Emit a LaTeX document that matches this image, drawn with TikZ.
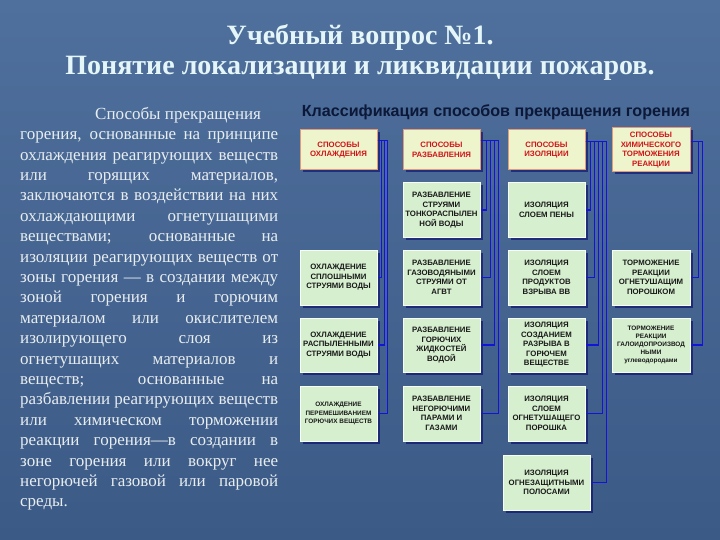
\documentclass[tikz,border=0pt]{standalone}
\usepackage{fontspec}
\setmainfont{Liberation Serif}
\newfontfamily\arialf{Liberation Sans}
\usetikzlibrary{shadows,calc}
\definecolor{bgtop}{HTML}{4F6F9C}
\definecolor{bgbot}{HTML}{3C5A86}
\definecolor{titlec}{HTML}{E4F6F8}
\definecolor{parac}{HTML}{E8EEF0}
\definecolor{navyc}{HTML}{0C1838}
\definecolor{boxfill}{HTML}{D6EFCF}
\definecolor{hdrfill}{HTML}{EEF4CB}
\definecolor{hdrdraw}{HTML}{E59A7A}
\definecolor{hdrtext}{HTML}{D2141A}
\definecolor{conncol}{HTML}{1414D8}
\tikzset{
  titletext/.style={font=\bfseries\fontsize{28}{30}\selectfont, text=titlec, inner sep=0pt},
  paratext/.style={font=\fontsize{17}{20.4}\selectfont, text=parac, align=left, inner sep=0pt},
  box/.style={draw=white!80!boxfill, line width=1pt, fill=boxfill, align=center, inner sep=1pt,
    font=\arialf\bfseries\fontsize{7.8}{9.5}\selectfont, text=black!90,
    drop shadow={shadow xshift=2.5pt, shadow yshift=-2.5pt, fill=black!60!blue, opacity=0.55}},
  hdr/.style={box, fill=hdrfill, draw=hdrdraw, text=hdrtext},
  smalltext/.style={font=\arialf\bfseries\fontsize{6.4}{8.2}\selectfont},
  conn/.style={draw=conncol, line width=1.5pt}
}
\newcommand{\jl}[1]{\makebox[258pt][s]{#1}}
\begin{document}
\begin{tikzpicture}[x=1pt,y=-1pt]
\useasboundingbox (0,0) rectangle (720,540);
\shade[top color=bgtop, bottom color=bgbot] (0,0) rectangle (720,540);

% titles
\node[titletext] (t1) at (360,37) {Учебный вопрос №1.};
\node[titletext] (t2) at (360,68) {Понятие локализации и ликвидации пожаров.};

% paragraph
\node[paratext, anchor=north west] (para) at (20,107) {%
\makebox[258pt][l]{\hspace*{75pt}Способы прекращения}\\
\jl{горения, основанные на принципе}\\
\jl{охлаждения реагирующих веществ}\\
\jl{или горящих материалов,}\\
\jl{заключаются в воздействии на них}\\
\jl{охлаждающими огнетушащими}\\
\jl{веществами; основанные на}\\
\jl{изоляции реагирующих веществ от}\\
\jl{зоны горения — в создании между}\\
\jl{зоной горения и горючим}\\
\jl{материалом или окислителем}\\
\jl{изолирующего слоя из}\\
\jl{огнетушащих материалов и}\\
\jl{веществ; основанные на}\\
\jl{разбавлении реагирующих веществ}\\
\jl{или химическом торможении}\\
\jl{реакции горения—в создании в}\\
\jl{зоне горения или вокруг нее}\\
\jl{негорючей газовой или паровой}\\
\makebox[258pt][l]{среды.}};

% diagram title
\node[font=\arialf\bfseries\fontsize{16.1}{18}\selectfont, text=navyc, inner sep=0pt] (dt) at (496,112)
  {Классификация способов прекращения горения};

% headers
\node[hdr, minimum width=77pt, minimum height=40pt] (h1) at (338.5,150) {СПОСОБЫ\\ОХЛАЖДЕНИЯ};
\node[hdr, minimum width=77pt, minimum height=40pt] (h2) at (441.5,150) {СПОСОБЫ\\РАЗБАВЛЕНИЯ};
\node[hdr, minimum width=77pt, minimum height=40pt] (h3) at (546.5,150) {СПОСОБЫ\\ИЗОЛЯЦИИ};
\node[hdr, minimum width=78pt, minimum height=44pt] (h4) at (651,150) {СПОСОБЫ\\ХИМИЧЕСКОГО\\ТОРМОЖЕНИЯ\\РЕАКЦИИ};

% column 1
\node[box, minimum width=77pt, minimum height=55pt] (c11) at (338.5,277.5) {ОХЛАЖДЕНИЕ\\СПЛОШНЫМИ\\СТРУЯМИ ВОДЫ};
\node[box, minimum width=77pt, minimum height=54pt] (c12) at (338.5,345) {ОХЛАЖДЕНИЕ\\РАСПЫЛЕННЫМИ\\СТРУЯМИ ВОДЫ};
\node[box, smalltext, minimum width=77pt, minimum height=55pt] (c13) at (338.5,413.5) {ОХЛАЖДЕНИЕ\\ПЕРЕМЕШИВАНИЕМ\\ГОРЮЧИХ ВЕЩЕСТВ};

% column 2
\node[box, minimum width=77pt, minimum height=54pt] (c21) at (441.5,210) {РАЗБАВЛЕНИЕ\\СТРУЯМИ\\ТОНКОРАСПЫЛЕН\\НОЙ ВОДЫ};
\node[box, minimum width=77pt, minimum height=55pt] (c22) at (441.5,277.5) {РАЗБАВЛЕНИЕ\\ГАЗОВОДЯНЫМИ\\СТРУЯМИ ОТ\\АГВТ};
\node[box, minimum width=77pt, minimum height=54pt] (c23) at (441.5,345) {РАЗБАВЛЕНИЕ\\ГОРЮЧИХ\\ЖИДКОСТЕЙ\\ВОДОЙ};
\node[box, minimum width=77pt, minimum height=55pt] (c24) at (441.5,413.5) {РАЗБАВЛЕНИЕ\\НЕГОРЮЧИМИ\\ПАРАМИ И\\ГАЗАМИ};

% column 3
\node[box, minimum width=77pt, minimum height=54pt] (c31) at (546.5,210) {ИЗОЛЯЦИЯ\\СЛОЕМ ПЕНЫ};
\node[box, minimum width=77pt, minimum height=55pt] (c32) at (546.5,277.5) {ИЗОЛЯЦИЯ\\СЛОЕМ\\ПРОДУКТОВ\\ВЗРЫВА ВВ};
\node[box, minimum width=77pt, minimum height=54pt] (c33) at (546.5,345) {ИЗОЛЯЦИЯ\\СОЗДАНИЕМ\\РАЗРЫВА В\\ГОРЮЧЕМ\\ВЕЩЕСТВЕ};
\node[box, minimum width=77pt, minimum height=55pt] (c34) at (546.5,413.5) {ИЗОЛЯЦИЯ\\СЛОЕМ\\ОГНЕТУШАЩЕГО\\ПОРОШКА};
\node[box, minimum width=87pt, minimum height=55pt] (c35) at (546.5,482.5) {ИЗОЛЯЦИЯ\\ОГНЕЗАЩИТНЫМИ\\ПОЛОСАМИ};

% column 4
\node[box, minimum width=78pt, minimum height=55pt] (c41) at (651,277.5) {ТОРМОЖЕНИЕ\\РЕАКЦИИ\\ОГНЕТУШАЩИМ\\ПОРОШКОМ};
\node[box, smalltext, minimum width=78pt, minimum height=54pt] (c42) at (651,345) {ТОРМОЖЕНИЕ\\РЕАКЦИИ\\ГАЛОИДОПРОИЗВОД\\НЫМИ\\углеводородами};

% connectors
\draw[conn] ([yshift=-11pt]h1.north east) -| ([xshift=4pt]c11.east) -- (c11.east);
\draw[conn] ([yshift=-11pt]h1.north east) -| ([xshift=7pt]c12.east) -- (c12.east);
\draw[conn] ([yshift=-11pt]h1.north east) -| ([xshift=10pt]c13.east) -- (c13.east);

\draw[conn] ([yshift=-11pt]h2.north east) -| ([xshift=6pt]c21.east) -- (c21.east);
\draw[conn] ([yshift=-11pt]h2.north east) -| ([xshift=10pt]c22.east) -- (c22.east);
\draw[conn] ([yshift=-11pt]h2.north east) -| ([xshift=14pt]c23.east) -- (c23.east);
\draw[conn] ([yshift=-11pt]h2.north east) -| ([xshift=18pt]c24.east) -- (c24.east);

\draw[conn] ([yshift=-12pt]h3.north east) -| ([xshift=5pt]c31.east) -- (c31.east);
\draw[conn] ([yshift=-12pt]h3.north east) -| ([xshift=9pt]c32.east) -- (c32.east);
\draw[conn] ([yshift=-12pt]h3.north east) -| ([xshift=13pt]c33.east) -- (c33.east);
\draw[conn] ([yshift=-12pt]h3.north east) -| ([xshift=17pt]c34.east) -- (c34.east);
\draw[conn] ([yshift=-12pt]h3.north east) -| ([xshift=16pt]c35.east) -- (c35.east);

\draw[conn] ([yshift=-14pt]h4.north east) -| ([xshift=8pt]c41.east) -- (c41.east);
\draw[conn] ([yshift=-14pt]h4.north east) -| ([xshift=12pt]c42.east) -- (c42.east);
\end{tikzpicture}
\end{document}
